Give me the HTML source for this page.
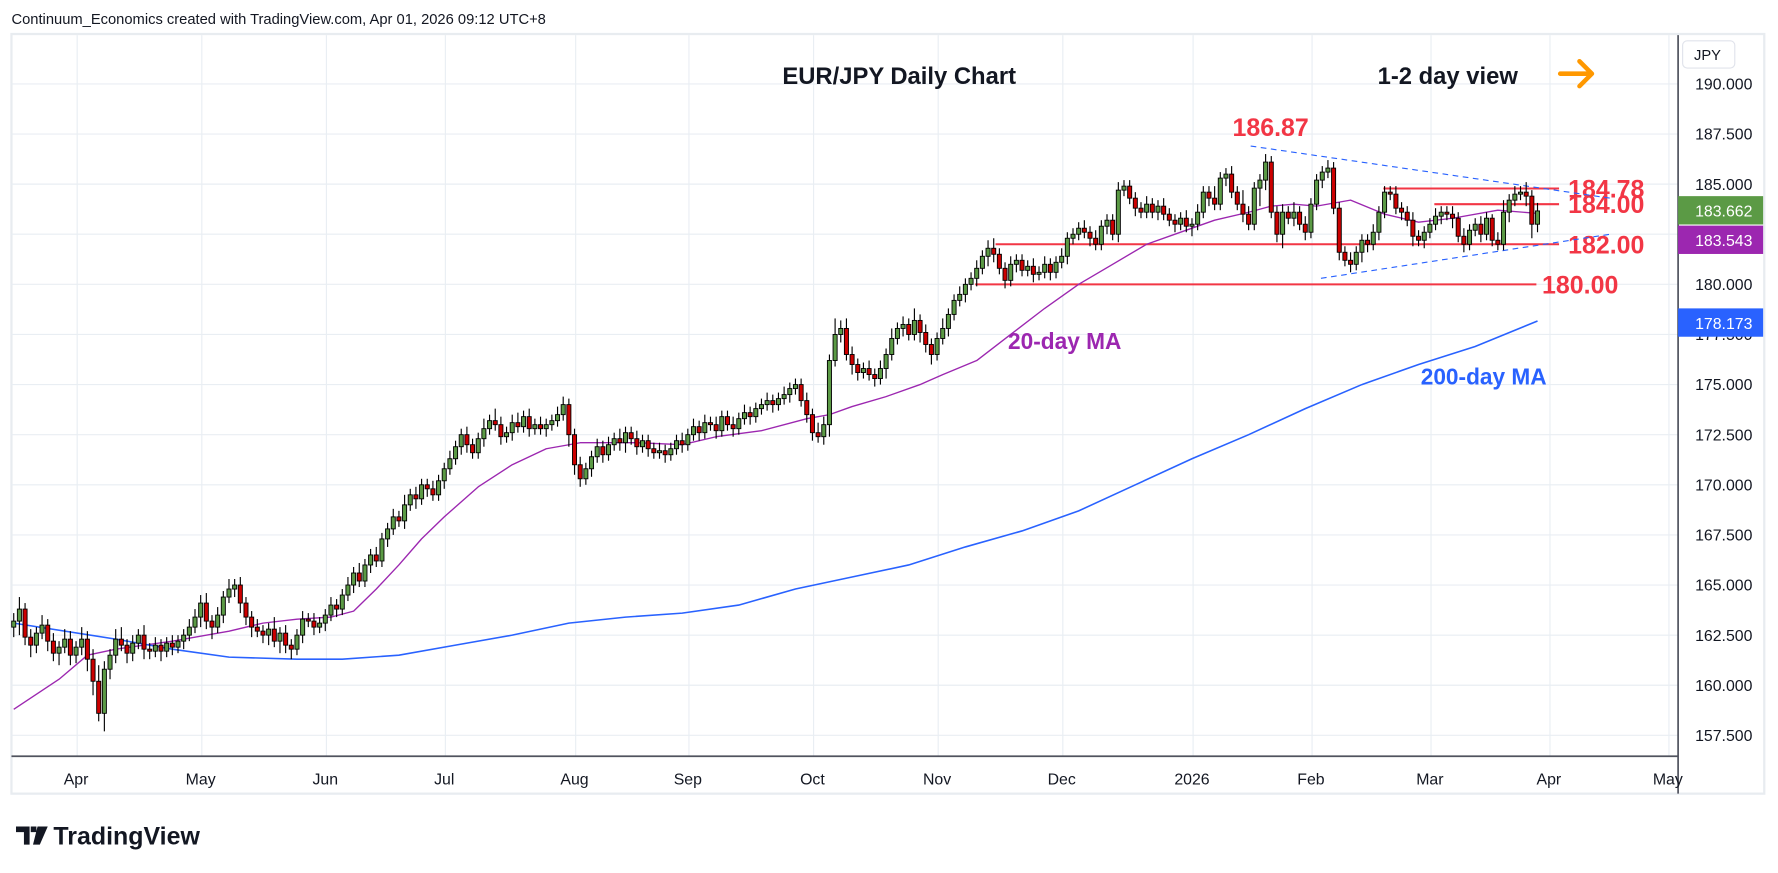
<!DOCTYPE html>
<html><head><meta charset="utf-8"><style>
html,body{margin:0;padding:0;background:#fff;}
svg{display:block;font-family:"Liberation Sans",sans-serif;}
</style></head><body>
<svg id="chart" width="1778" height="873" viewBox="0 0 1568 770" xmlns="http://www.w3.org/2000/svg">
<text x="10" y="21" font-size="13" fill="#131722">Continuum_Economics created with TradingView.com, Apr 01, 2026 09:12 UTC+8</text>
<rect x="10" y="30" width="1546" height="670" fill="none" stroke="#e8ecf0" stroke-width="2"/>
<g id="grid"></g>
<g id="levels"></g>
<g id="ma"></g>
<g id="candles"></g>
<g id="axes"></g>
<text x="793" y="74" font-size="21" font-weight="bold" fill="#131722" text-anchor="middle">EUR/JPY Daily Chart</text>
<text x="1215" y="74" font-size="21" font-weight="bold" fill="#131722">1-2 day view</text>
<g stroke="#ff9800" stroke-width="4" fill="none" stroke-linecap="round" stroke-linejoin="round"><path d="M1376 65 H1404 M1393 54 L1404 65 L1393 76"/></g>
<text x="1087" y="120" font-size="22" font-weight="bold" fill="#f23645">186.87</text>
<text x="889" y="308" font-size="20" font-weight="bold" fill="#9c27b0">20-day MA</text>
<text x="1253" y="339" font-size="20" font-weight="bold" fill="#2962ff">200-day MA</text>
<g>
<path d="M14 729 h12 v16 h-5 v-11 h-7z M27 729 h5 v5 h-5z M33 729 h9 l-7 16 h-6z" fill="#131722"/>
<text x="47" y="745" font-size="22" font-weight="bold" fill="#131722">TradingView</text>
</g>
</svg>
<script>
const closes=[163.2,163.8,162.4,162.0,162.6,163.0,162.2,161.6,161.9,162.3,161.5,
161.9,162.3,161.3,160.2,158.6,160.8,161.5,162.3,162.0,161.6,162.1,
162.5,161.8,161.7,162.0,161.7,162.1,161.9,162.2,162.5,162.9,163.4,
164.1,163.2,162.9,163.5,164.4,164.8,165.0,164.1,163.4,162.9,162.7,
162.5,162.8,162.2,162.6,162.0,161.8,162.5,163.3,163.2,162.9,163.1,
163.5,164.0,163.8,164.5,165.0,165.6,165.2,166.0,166.5,166.2,167.3,
167.8,168.4,168.2,169.0,169.5,169.3,170.0,169.8,169.5,170.2,
170.8,171.3,171.9,172.5,172.0,171.6,172.3,172.8,173.2,173.0,172.4,
172.6,173.1,172.9,173.4,172.8,173.0,172.8,173.0,173.2,173.5,174.0,172.5,
171.0,170.3,170.8,171.4,171.9,171.5,172.0,172.3,172.1,172.6,172.3,171.9,172.2,171.8,171.6,171.7,171.5,171.8,172.2,172.0,
172.5,172.9,172.6,173.1,173.0,172.7,173.4,173.0,172.8,173.3,173.6,173.4,173.8,174.0,174.2,174.0,174.3,
174.5,174.8,175.0,174.2,173.5,172.6,172.4,173.0,
176.2,177.5,177.8,176.5,176.0,175.6,175.8,175.5,175.3,175.8,176.5,177.3,177.8,178.0,177.5,178.2,177.6,177.0,176.5,
177.3,177.8,178.5,179.2,179.5,180.0,180.3,180.8,181.4,181.8,181.5,180.8,180.2,181.0,181.2,180.7,180.9,180.5,180.6,181.0,180.6,181.1,
181.4,182.3,182.5,182.8,182.6,182.3,182.0,182.9,183.2,182.5,184.7,184.9,184.3,183.8,183.6,184.0,183.6,183.9,183.5,183.2,183.0,183.3,182.9,
183.0,183.6,184.6,184.3,184.0,185.3,185.5,184.6,184.0,183.5,183.0,184.8,185.2,186.1,183.6,182.5,183.6,183.3,183.6,183.0,182.6,
184.0,185.2,185.6,185.8,183.8,181.6,181.2,181.0,181.6,182.2,182.0,182.6,183.6,184.6,184.5,183.8,183.6,183.2,182.4,182.2,182.6,
183.0,183.4,183.6,183.5,183.3,182.4,182.0,182.7,183.0,182.5,183.3,182.2,182.0,183.6,184.2,184.5,184.6,184.4,183.0,183.662];
const wickUp=[.4,.6,.3,.4,.3,.5,.3,.4,.3,.5,.4,.3,.6,.4,.5,.8,.4,.3,.5,.6,.3,.4,.3,.5,.3,.4,.3,.3,.4,.3,.3,.4,.4,.4,.5,.3,.4,.3,.5,.3,.4,.3,.3,.4,.3,.3,.6,.3,.4,.3,.3,.4,.3,.4,.3,.3,.4,.3,.3,.4,.3,.5,.3,.3,.4,.3,.3,.4,.3,.5,.3,.4,.3,.3,.4,.3,.3,.4,.3,.3,.4,.3,.3,.5,.3,.6,.4,.3,.4,.5,.3,.4,.3,.4,.3,.3,.4,.4,.3,.3,.4,.3,.3,.4,.3,.4,.3,.5,.3,.3,.4,.3,.3,.3,.4,.3,.3,.3,.4,.3,.4,.3,.4,.3,.4,.3,.3,.4,.3,.4,.3,.3,.3,.4,.3,.3,.4,.3,.3,.3,.4,.3,.5,.4,.3,.8,.4,.5,.4,.3,.3,.4,.3,.4,.3,.5,.3,.4,.3,.6,.3,.4,.3,.3,.5,.3,.3,.4,.3,.3,.4,.3,.4,.5,.3,.3,.4,.3,.3,.3,.4,.3,.4,.3,.3,.4,.3,.3,.3,.4,.3,.4,.3,.3,.3,.4,.3,.3,.3,.3,.4,.3,.3,.4,.3,.3,.3,.4,.3,.4,.3,.3,.6,.3,.3,.4,.3,.7,.4,.3,.3,.4,.3,.3,.4,.3,.5,.3,.4,.3,.3,.3,.4,.3,.3,.3,.4,.3,.3,.3,.4,.3,.3,.3,.4,.3,.3,.4,.3,.3,.3,.4,.3,.3,.4,.3,.4,.3,.3,.4,.3,.2];
const wickDn=[.5,.7,.4,.6,.4,.3,.5,.4,.6,.3,.5,.4,.4,.6,.7,.4,.9,.5,.4,.3,.5,.4,.3,.5,.4,.3,.5,.3,.4,.3,.4,.3,.3,.5,.4,.6,.3,.4,.3,.4,.5,.4,.5,.3,.4,.5,.3,.6,.4,.5,.3,.4,.3,.4,.3,.4,.3,.4,.3,.3,.4,.3,.3,.4,.3,.3,.4,.3,.3,.4,.3,.5,.3,.4,.3,.3,.4,.3,.3,.4,.4,.3,.3,.4,.3,.3,.4,.3,.4,.3,.3,.4,.3,.3,.4,.3,.3,.3,.6,.5,.4,.3,.4,.3,.4,.3,.3,.4,.5,.3,.4,.3,.4,.3,.3,.4,.3,.3,.4,.3,.3,.4,.3,.3,.4,.3,.3,.4,.3,.3,.4,.3,.3,.3,.4,.3,.3,.4,.3,.3,.4,.4,.3,.4,.6,.3,.4,.3,.5,.4,.3,.3,.4,.3,.5,.3,.3,.4,.3,.3,.5,.4,.5,.3,.3,.4,.3,.3,.4,.3,.4,.3,.5,.4,.3,.4,.3,.4,.3,.3,.4,.3,.3,.4,.3,.3,.4,.3,.3,.3,.4,.3,.3,.4,.3,.4,.3,.3,.4,.3,.3,.3,.4,.3,.3,.4,.3,.3,.5,.3,.3,.4,.3,.3,.4,.3,.3,.4,.3,.3,.9,.5,.3,.4,.7,.3,.4,.3,.4,.3,.3,.4,.3,.3,.4,.3,.4,.3,.5,.4,.3,.4,.3,.3,.3,.4,.3,.5,.3,.4,.3,.3,.4,.3,.5,.3,.4,.3,.3,.4,.3,.3,.3,.3,.5,.3,.3];
const ma20Idx=[0,8,13,18,28,38,44,50,56,60,64,68,72,76,82,88,94,100,110,118,124,132,140,144,148,154,160,164,170,176,182,188,194,200,206,212,218,222,226,230,236,242,248,254,262,269];
const ma20Val=[158.8,160.3,161.5,161.8,162.2,162.7,163.1,163.3,163.4,163.7,164.8,166.0,167.3,168.4,169.9,171.0,171.8,172.1,172.1,172.0,172.4,172.7,173.3,173.5,173.9,174.4,175.0,175.5,176.2,177.5,178.8,180.0,181.0,182.0,182.6,183.2,183.6,183.9,184.0,183.9,184.2,183.5,183.1,183.3,183.7,183.543];
const ma200Idx=[0,18,28,38,50,58,68,78,88,98,108,118,128,138,148,158,168,178,188,198,208,218,228,238,248,258,269];
const ma200Val=[163.1,162.3,161.8,161.4,161.3,161.3,161.5,162.0,162.5,163.1,163.4,163.6,164.0,164.8,165.4,166.0,166.9,167.7,168.7,170.0,171.3,172.5,173.8,175.0,176.0,176.9,178.173];
const priceTicks=[157.5,160,162.5,165,167.5,170,172.5,175,177.5,180,182.5,185,187.5,190];
const monthLabels=["Apr","May","Jun","Jul","Aug","Sep","Oct","Nov","Dec","2026","Feb","Mar","Apr","May"];
const monthIdx=[11,33,55,76,99,119,141,163,185,208,229,250,271,292];
const levelVals=[184.78,184.00,182.00,180.00];
const levelLabels=["184.78","184.00","182.00","180.00"];

const NS="http://www.w3.org/2000/svg";
const X0=12,X1=1356,PL=10,PR=1480,PT=31,PB=667;
const xOf=i=>X0+(X1-X0)*i/(closes.length-1);
const yOf=p=>74+(190-p)*17.68;
function mk(tag,attrs,parent){const e=document.createElementNS(NS,tag);for(const k in attrs)e.setAttribute(k,attrs[k]);parent.appendChild(e);return e;}
const grid=document.getElementById('grid'),candles=document.getElementById('candles'),ma=document.getElementById('ma'),axes=document.getElementById('axes'),levels=document.getElementById('levels');
priceTicks.forEach(p=>{const l=mk('line',{x1:PL,x2:PR,y1:yOf(p),y2:yOf(p),stroke:'#e9eef3','stroke-width':1},grid);

});
monthIdx.forEach(i=>{const l=mk('line',{x1:xOf(i)+1,x2:xOf(i)+1,y1:PT,y2:PB,stroke:'#e9eef3','stroke-width':1},grid);

});
const levelX=[[1220,1375],[1265,1375],[878,1375],[860,1355]];
const labelX=[1383,1383,1383,1360];
levelVals.forEach((v,k)=>{const y=yOf(v);
const l=mk('line',{x1:levelX[k][0],x2:levelX[k][1],y1:y,y2:y,stroke:'#f23645','stroke-width':1.8},levels);


const t=mk('text',{x:labelX[k],y:y+8,'font-size':22,'font-weight':'bold',fill:'#f23645'},levels);t.textContent=levelLabels[k];

});
[[1103,186.9,1420,184.3],[1165,180.3,1420,182.5]].forEach(s=>{const l=mk('line',{x1:s[0],y1:yOf(s[1]),x2:s[2],y2:yOf(s[3]),stroke:'#2962ff','stroke-width':1,'stroke-dasharray':'5,4'},levels);

});
function maPath(idx,val){return idx.map((i,k)=>(k?'L':'M')+xOf(i).toFixed(1)+' '+yOf(val[k]).toFixed(1)).join(' ');}
const p20=mk('path',{d:maPath(ma20Idx,ma20Val),fill:'none',stroke:'#9c27b0','stroke-width':1.2,'stroke-linejoin':'round'},ma);


const p200=mk('path',{d:maPath(ma200Idx,ma200Val),fill:'none',stroke:'#2962ff','stroke-width':1.4},ma);


closes.forEach((c,i)=>{const o=i?closes[i-1]:c-0.3;const x=xOf(i);const hi=Math.max(o,c)+wickUp[i%wickUp.length],lo=Math.min(o,c)-wickDn[i%wickDn.length];
const g=mk('g',{},candles);


mk('line',{x1:x,x2:x,y1:yOf(hi),y2:yOf(lo),stroke:'#000','stroke-width':1},g);
const top=yOf(Math.max(o,c)),bot=yOf(Math.min(o,c));
mk('rect',{x:x-1.8,y:top,width:3.6,height:Math.max(1,bot-top),fill:c>=o?'#5b9a45':'#cc0000',stroke:'#000','stroke-width':0.8},g);});
mk('line',{x1:PR,x2:PR,y1:PT,y2:700,stroke:'#50535e','stroke-width':1.5},axes);
mk('line',{x1:PL,x2:PR,y1:PB,y2:PB,stroke:'#50535e','stroke-width':1.5},axes);
priceTicks.forEach(p=>{const t=mk('text',{x:1495,y:yOf(p)+5,'font-size':14,fill:'#131722'},axes);t.textContent=p.toFixed(3);

});
monthLabels.forEach((m,k)=>{const t=mk('text',{x:xOf(monthIdx[k]),y:692,'font-size':14,fill:'#131722','text-anchor':'middle'},axes);t.textContent=m;

});
const jb=mk('rect',{x:1484,y:36,width:46,height:24,rx:4,fill:'#fff',stroke:'#e0e3eb'},axes);


const jt=mk('text',{x:1494,y:53,'font-size':13,fill:'#131722'},axes);jt.textContent='JPY';
const tagVals=[closes[closes.length-1],ma20Val[ma20Val.length-1],ma200Val[ma200Val.length-1]];
const tagColors=['#5b9a45','#9c27b0','#2962ff'];
const tagNames=['last-price-tag','ma20-tag','ma200-tag'];
const tagY=[185,211,284];
tagVals.forEach((v,k)=>{const r=mk('rect',{x:1480,y:tagY[k]-12,width:75,height:25,fill:tagColors[k]},axes);


const t=mk('text',{x:1495,y:tagY[k]+6,'font-size':14,fill:'#fff'},axes);t.textContent=v.toFixed(3);});
</script>
</body></html>
